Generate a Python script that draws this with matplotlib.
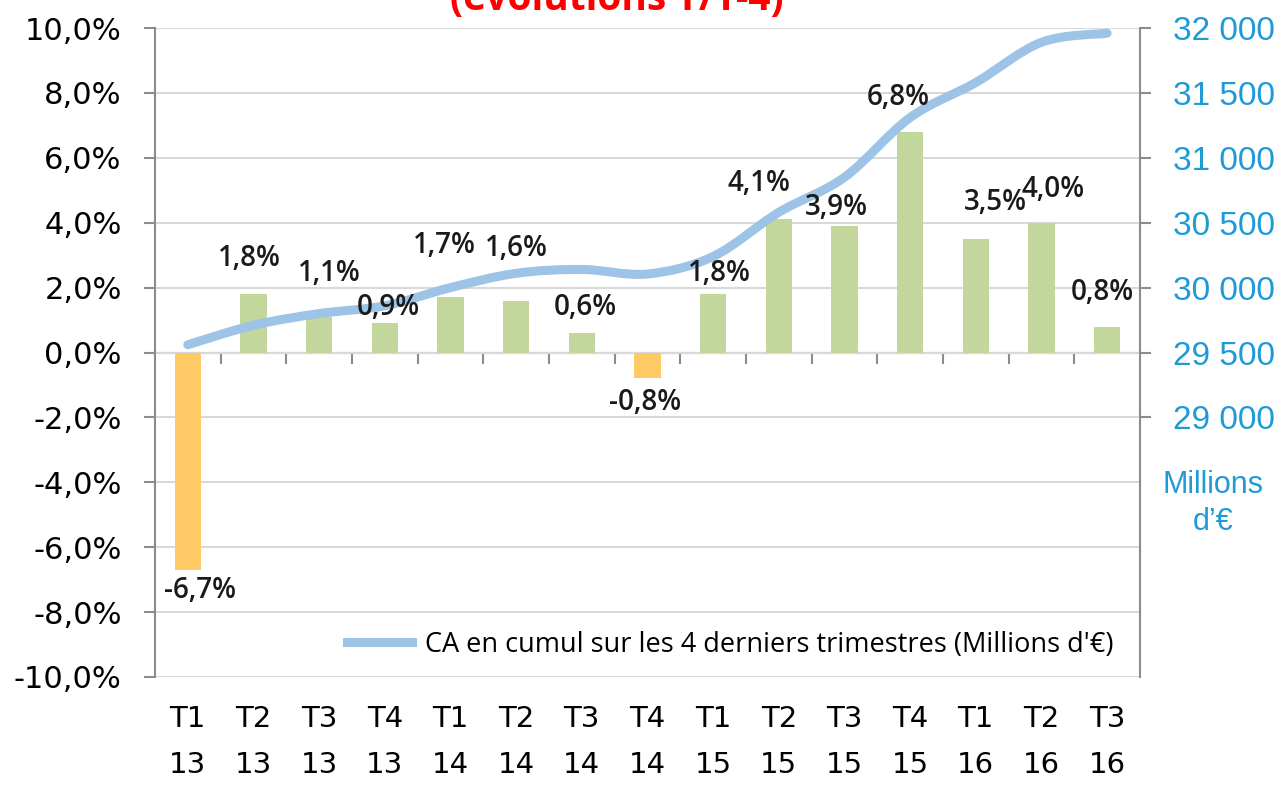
import matplotlib
matplotlib.use('Agg')
import matplotlib.pyplot as plt
from matplotlib.path import Path
from matplotlib.patches import PathPatch
from matplotlib.lines import Line2D
from matplotlib import font_manager

quarters = ['T1\n13', 'T2\n13', 'T3\n13', 'T4\n13', 'T1\n14', 'T2\n14', 'T3\n14',
            'T4\n14', 'T1\n15', 'T2\n15', 'T3\n15', 'T4\n15', 'T1\n16', 'T2\n16', 'T3\n16']
evolution = [-6.7, 1.8, 1.1, 0.9, 1.7, 1.6, 0.6, -0.8, 1.8, 4.1, 3.9, 6.8, 3.5, 4.0, 0.8]
ca_cumul = [29560, 29710, 29800, 29860, 30000, 30110, 30140, 30105, 30240, 30580,
            30850, 31310, 31580, 31890, 31960]

# label placement (manual, as in the original chart)
label_dx = [0.18, -0.06, 0.15, 0.06, -0.09, 0.0, 0.06, -0.03, 0.09, -0.3, -0.12, -0.18, 0.3, 0.18, -0.08]
label_y = [-7.35, 2.9, 2.44, 1.39, 3.3, 3.21, 1.39, -1.54, 2.44, 5.22, 4.48, 7.87, 4.63, 5.03, 1.85]

names = {f.name for f in font_manager.fontManager.ttflist}
legend_font = 'Liberation Sans Narrow' if 'Liberation Sans Narrow' in names else 'Open Sans'

green = '#C3D69B'
orange = '#FFC966'
blue_line = '#9DC3E6'
blue_txt = '#1E9BD7'
axis_grey = '#8C8C8C'
grid_grey = '#D9D9D9'

fig = plt.figure(figsize=(12.85, 7.85), dpi=100)
ax = fig.add_axes([0.1206, 0.1376, 0.7665, 0.8267])
ax2 = ax.twinx()

x = list(range(len(quarters)))
colors = [orange if v < 0 else green for v in evolution]
ax.bar(x, evolution, width=0.4, color=colors, zorder=2)

ax.set_xlim(-0.5, len(quarters) - 0.5)
ax.set_ylim(-10, 10)
yt = list(range(-10, 11, 2))
ax.set_yticks(yt)
ax.set_yticklabels([f'{v:.1f}%'.replace('.', ',') for v in yt], fontsize=22, family='DejaVu Sans')
ax.set_xticks(x)
ax.set_xticklabels(quarters, fontsize=21, family='DejaVu Sans', linespacing=1.85)
ax.tick_params(axis='x', length=0, pad=20)
ax.tick_params(axis='y', length=8, width=1.5, color=axis_grey, pad=16)
ax.yaxis.grid(True, color=grid_grey, lw=1.5, zorder=0)
ax.set_axisbelow(True)
for s in ['top', 'right', 'bottom']:
    ax.spines[s].set_visible(False)
ax.spines['left'].set_color(axis_grey)
ax.spines['left'].set_linewidth(1.5)

# category axis crossing at 0
sec = ax.secondary_xaxis(0.5)
sec.set_xticks([i + 0.5 for i in x[:-1]])
sec.tick_params(axis='x', which='both', length=8, width=1.5, color=axis_grey,
                direction='in', labelbottom=False, labeltop=False)
for s in sec.spines.values():
    s.set_color(axis_grey)
    s.set_linewidth(1.5)

# right axis
ax2.set_ylim(27000, 32000)
rt = list(range(29000, 32001, 500))
ax2.set_yticks(rt)
ax2.set_yticklabels([f'{v:,}'.replace(',', ' ') for v in rt], fontsize=24,
                    family='Liberation Sans', color=blue_txt)
ax2.tick_params(axis='y', length=8, width=1.5, color=axis_grey, pad=16)
for s in ['top', 'left', 'bottom']:
    ax2.spines[s].set_visible(False)
ax2.spines['right'].set_color(axis_grey)
ax2.spines['right'].set_linewidth(1.5)
ax2.text(1.074, 0.268, 'Millions\nd\u2019\u20ac', transform=ax2.transAxes, ha='center', va='center',
         fontsize=22, family='Liberation Sans', color=blue_txt, linespacing=1.3)

# smoothed line (Bezier through the data points)
verts = [(x[0], ca_cumul[0])]
codes = [Path.MOVETO]
n = len(x)
for i in range(n - 1):
    p0 = (x[max(i - 1, 0)], ca_cumul[max(i - 1, 0)])
    p1 = (x[i], ca_cumul[i])
    p2 = (x[i + 1], ca_cumul[i + 1])
    p3 = (x[min(i + 2, n - 1)], ca_cumul[min(i + 2, n - 1)])
    c1 = (p1[0] + (p2[0] - p0[0]) / 6, p1[1] + (p2[1] - p0[1]) / 6)
    c2 = (p2[0] - (p3[0] - p1[0]) / 6, p2[1] - (p3[1] - p1[1]) / 6)
    verts += [c1, c2, p2]
    codes += [Path.CURVE4] * 3
ax2.add_patch(PathPatch(Path(verts, codes), fill=False, edgecolor=blue_line, lw=6.5,
                        capstyle='round', joinstyle='round', zorder=3))

# data labels
for i, v in enumerate(evolution):
    ax2.text(x[i] + label_dx[i], label_y[i], f'{v:.1f}%'.replace('.', ','),
             transform=ax.transData, ha='center', va='center', fontsize=20,
             family='Open Sans', fontweight='semibold', color='#1a1a1a', zorder=5)

handle = Line2D([], [], color=blue_line, lw=6.5)
ax2.legend([handle], ["CA en cumul sur les 4 derniers trimestres (Millions d'\u20ac)"],
           loc='center', bbox_to_anchor=(0.584, 0.05), frameon=False, handlelength=2.4,
           handletextpad=0.5, prop={'family': legend_font, 'size': 19.5})

fig.text(0.48, 1 - 10 / 785, '(évolutions T/T-4)', ha='center', va='baseline',
         fontsize=28, fontweight='bold', color='#FF0000', family='Open Sans')

fig.savefig('out.png', dpi=100)
